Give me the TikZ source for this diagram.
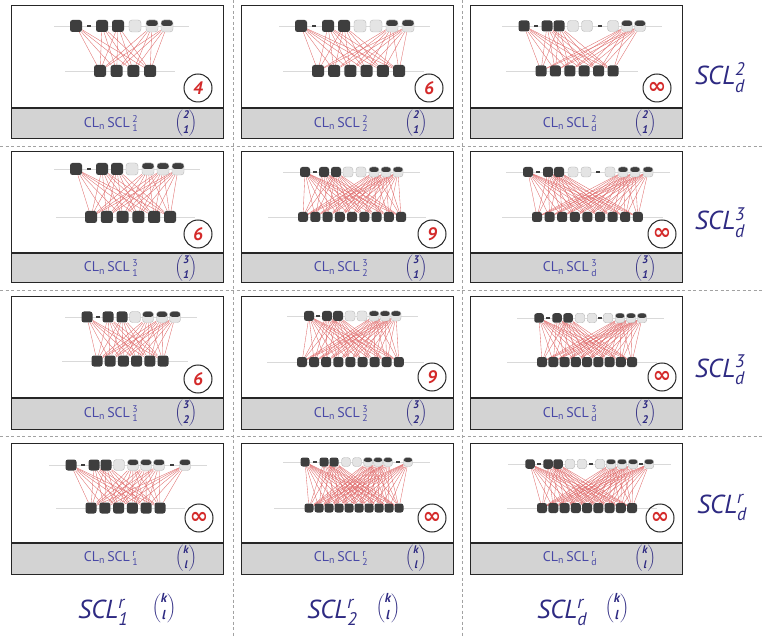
\documentclass[tikz,border=0pt]{standalone}
\usepackage{amsmath}
\usepackage{fontspec}
\setmainfont{PT Sans}
\newfontfamily\symfont{DejaVu Sans}

\definecolor{ink}{HTML}{2E2A82}
\definecolor{barink}{HTML}{4848A6}
\definecolor{barfill}{HTML}{D3D3D3}
\definecolor{nodedark}{HTML}{3E3E3E}
\definecolor{nodelight}{HTML}{E4E4E4}
\definecolor{wire}{HTML}{E06A6A}
\definecolor{badgered}{HTML}{D42A2A}
\definecolor{sepgray}{HTML}{A2A2A2}

\pgfdeclarelayer{back}
\pgfdeclarelayer{wires}
\pgfsetlayers{back,wires,main}

\tikzset{
  nd-d/.style={rectangle, rounded corners=2.5pt, fill=nodedark, inner sep=0pt},
  nd-l/.style={rectangle, rounded corners=3pt, draw=gray!55, line width=0.4pt,
               fill=nodelight, inner sep=0pt},
  nd-h/.style={rectangle, rounded corners=3pt, draw=gray!55, line width=0.4pt,
               fill=nodelight, inner sep=0pt,
               path picture={\fill[nodedark] (path picture bounding box.north west)
                             rectangle (path picture bounding box.east);}},
  nd-s/.style={rectangle, fill=nodedark, inner sep=0pt,
               minimum width=4.5pt, minimum height=1.6pt},
  link/.style={draw=wire, line width=0.35pt},
  guide/.style={draw=gray!30, line width=0.5pt},
  frame/.style={draw=black!85, line width=1pt},
  gridline/.style={draw=sepgray, line width=0.7pt, dash pattern=on 3pt off 2.5pt},
  badge/.style={circle, draw=black!85, line width=1pt, minimum size=28pt,
                inner sep=0pt, text=badgered,
                font=\fontsize{18}{18}\selectfont\bfseries\itshape},
  barlabel/.style={text=barink, inner sep=0pt,
                   font=\fontsize{14}{16}\selectfont},
  barbinom/.style={text=ink, inner sep=0pt, font=\fontsize{11}{13}\selectfont},
  biglabel/.style={text=ink, inner sep=0pt, anchor=base,
                   font=\fontsize{26}{30}\selectfont\itshape},
  bigbinom/.style={text=ink, inner sep=0pt, font=\fontsize{13}{15}\selectfont},
}

\newcommand\inftysym{{\symfont\bfseries\fontsize{22}{22}\selectfont ∞}}
\newcommand\bbnum[1]{\text{\bfseries\itshape #1}}

% frame of one cell: name, left x, top y, bar top y, bottom y, sup, sub, binom top, binom bottom
\newcommand\panelframe[9]{%
  \begin{pgfonlayer}{back}
    \fill[white] (#2,#3) rectangle ({#2+212},#4);
    \fill[barfill] (#2,#4) rectangle ({#2+212},#5);
    \draw[frame] (#2,#3) rectangle ({#2+212},#5);
    \draw[frame, line width=1.4pt] (#2,#4) -- ({#2+212},#4);
  \end{pgfonlayer}
  \node[barlabel] (#1-lab) at ({#2+100},{(#4+#5)/2})
    {CL$_{\text{n}}$\,SCL$\,^{\text{#6}}_{\text{#7}}$};
  \node[barbinom] (#1-bin) at ({#2+175},{(#4+#5)/2})
    {$\dbinom{\bbnum{#8}}{\bbnum{#9}}$};
}

% lower row: prefix, y, size, first x, step, count
\newcommand\botrow[6]{%
  \foreach \j in {1,...,#6}
    \node[minimum size=#3, nd-d] (#1b\j) at ({#4+(\j-1)*#5},#2) {};
  \begin{pgfonlayer}{wires}
    \draw[guide] ([xshift=-35pt]#1b1.center) -- ([xshift=25pt]#1b#6.center);
  \end{pgfonlayer}
}

% upper row: prefix, y, size, count of lower nodes, list x/type (d dark, l light, h half, s dash)
\newcommand\toprow[5]{%
  \foreach \x/\k [count=\i] in {#5} {
    \node[minimum size=#3, nd-\k] (#1t\i) at (\x,#2) {};
    \xdef\lastidx{\i}
    \if\k s\else\if\k l\else
      \begin{pgfonlayer}{wires}
        \foreach \j in {1,...,#4} \draw[link] (#1t\i) -- (#1b\j);
      \end{pgfonlayer}
    \fi\fi
  }
  \begin{pgfonlayer}{wires}
    \draw[guide] ([xshift=-22pt]#1t1.center) -- ([xshift=22pt]#1t\lastidx.center);
  \end{pgfonlayer}
}

\begin{document}
\begin{tikzpicture}[x=1pt, y=-1pt]
\useasboundingbox (0,0) rectangle (763,636);
\begin{pgfonlayer}{back}
  \fill[white] (0,0) rectangle (763,636);
  \foreach \yy in {146,290,436} \draw[gridline] (0,\yy) -- (763,\yy);
  \foreach \xx in {233,462} \draw[gridline] (\xx,0) -- (\xx,636);
\end{pgfonlayer}

% ---------- first row ----------
\panelframe{p11}{11}{6}{108}{139}{2}{1}{2}{1}
\botrow{p11}{71}{12pt}{100}{16.7}{4}
\toprow{p11}{26}{12pt}{4}{76/d,89/s,102/d,118/d,135/l,152/h,167/h}
\node[badge] (p11c) at (198,88) {4};

\panelframe{p21}{241}{6}{108}{139}{2}{2}{2}{1}
\botrow{p21}{71}{12pt}{318}{16.2}{6}
\toprow{p21}{26}{12pt}{6}{301/d,314/s,328/d,344/d,360/l,376/l,392/h,408/h}
\node[badge] (p21c) at (429,88) {6};

\panelframe{p31}{470}{6}{108}{139}{2}{d}{2}{1}
\botrow{p31}{71}{11pt}{541}{14.4}{6}
\toprow{p31}{26}{11pt}{6}{524/d,536/s,547/d,559/d,573/l,587/l,600/s,613/l,627/h,640/h}
\node[badge] (p31c) at (657,88) {\inftysym};

% ---------- second row ----------
\panelframe{p12}{11}{152}{253}{283}{3}{1}{3}{1}
\botrow{p12}{217}{12pt}{91}{15.8}{6}
\toprow{p12}{169}{12pt}{6}{76/d,89/s,102/d,117/d,132/l,148/h,163/h,178/h}
\node[badge] (p12c) at (198,234) {6};

\panelframe{p22}{241}{152}{253}{283}{3}{2}{3}{1}
\botrow{p22}{217}{10pt}{303}{12.25}{9}
\toprow{p22}{172}{10pt}{9}{305/d,315/s,324/d,336/d,348/l,361/l,374/h,386/h,398/h}
\node[badge] (p22c) at (432,234) {9};

\panelframe{p32}{470}{152}{253}{283}{3}{d}{3}{1}
\botrow{p32}{217}{10pt}{537}{12.6}{9}
\toprow{p32}{172}{10pt}{9}{528/d,538/s,548/d,559/d,573/l,586/l,598/s,610/l,623/h,635/h,648/h}
\node[badge] (p32c) at (662,234) {\inftysym};

% ---------- third row ----------
\panelframe{p13}{11}{297}{398}{429}{3}{1}{3}{2}
\botrow{p13}{361}{11pt}{97}{13.2}{6}
\toprow{p13}{317}{11pt}{6}{87/d,98/s,108/d,122/d,135/l,148/h,162/h,175/h}
\node[badge] (p13c) at (198,379) {6};

\panelframe{p23}{241}{297}{398}{429}{3}{2}{3}{2}
\botrow{p23}{362}{10pt}{302}{12.1}{9}
\toprow{p23}{316}{10pt}{9}{309/d,318/s,327/d,338/d,350/l,362/l,374/h,385/h,396/h}
\node[badge] (p23c) at (432,377) {9};

\panelframe{p33}{470}{297}{398}{429}{3}{d}{3}{2}
\botrow{p33}{362}{10pt}{542}{11.25}{9}
\toprow{p33}{318}{9.5pt}{9}{539/d,548/s,557/d,568/d,580/l,592/l,600/s,608/l,620/h,631/h,642/h}
\node[badge] (p33c) at (662,377) {\inftysym};

% ---------- fourth row ----------
\panelframe{p14}{11}{443}{543}{574}{r}{1}{k}{l}
\botrow{p14}{508}{11pt}{91}{13.8}{6}
\toprow{p14}{465}{11pt}{6}{71/d,83/s,94/d,106/d,119/l,133/h,146/h,159/h,172/s,185/h}
\node[badge] (p14c) at (199,518) {\inftysym};

\panelframe{p24}{241}{443}{543}{574}{r}{2}{k}{l}
\botrow{p24}{508}{9pt}{309}{10}{10}
\toprow{p24}{462}{9pt}{10}{305/d,315/s,324/d,334/d,346/l,357/l,368/h,378/h,388/h,398/s,408/h}
\node[badge] (p24c) at (432,518) {\inftysym};

\panelframe{p34}{470}{443}{543}{574}{r}{d}{k}{l}
\botrow{p34}{508}{10pt}{542}{11.25}{9}
\toprow{p34}{464}{9.5pt}{9}{530/d,539/s,548/d,558/d,570/l,582/l,591/s,600/l,611/h,622/h,633/h,641/s,649/h}
\node[badge] (p34c) at (660,518) {\inftysym};

% ---------- row titles ----------
\node[biglabel] (row1) at (720,85)  {SCL$^{\text{2}}_{\text{d}}$};
\node[biglabel] (row2) at (720,230) {SCL$^{\text{3}}_{\text{d}}$};
\node[biglabel] (row3) at (720,377) {SCL$^{\text{3}}_{\text{d}}$};
\node[biglabel] (row4) at (722,513) {SCL$^{\text{r}}_{\text{d}}$};

% ---------- column titles ----------
\node[biglabel, anchor=base west] (col1) at (78,618)  {SCL$^{\text{r}}_{\text{1}}$};
\node[biglabel, anchor=base west] (col2) at (307,618) {SCL$^{\text{r}}_{\text{2}}$};
\node[biglabel, anchor=base west] (col3) at (537,618) {SCL$^{\text{r}}_{\text{d}}$};
\node[bigbinom] (col1b) at (164,608) {$\dbinom{\bbnum{k}}{\bbnum{l}}$};
\node[bigbinom] (col2b) at (388,608) {$\dbinom{\bbnum{k}}{\bbnum{l}}$};
\node[bigbinom] (col3b) at (617,608) {$\dbinom{\bbnum{k}}{\bbnum{l}}$};
\end{tikzpicture}
\end{document}
